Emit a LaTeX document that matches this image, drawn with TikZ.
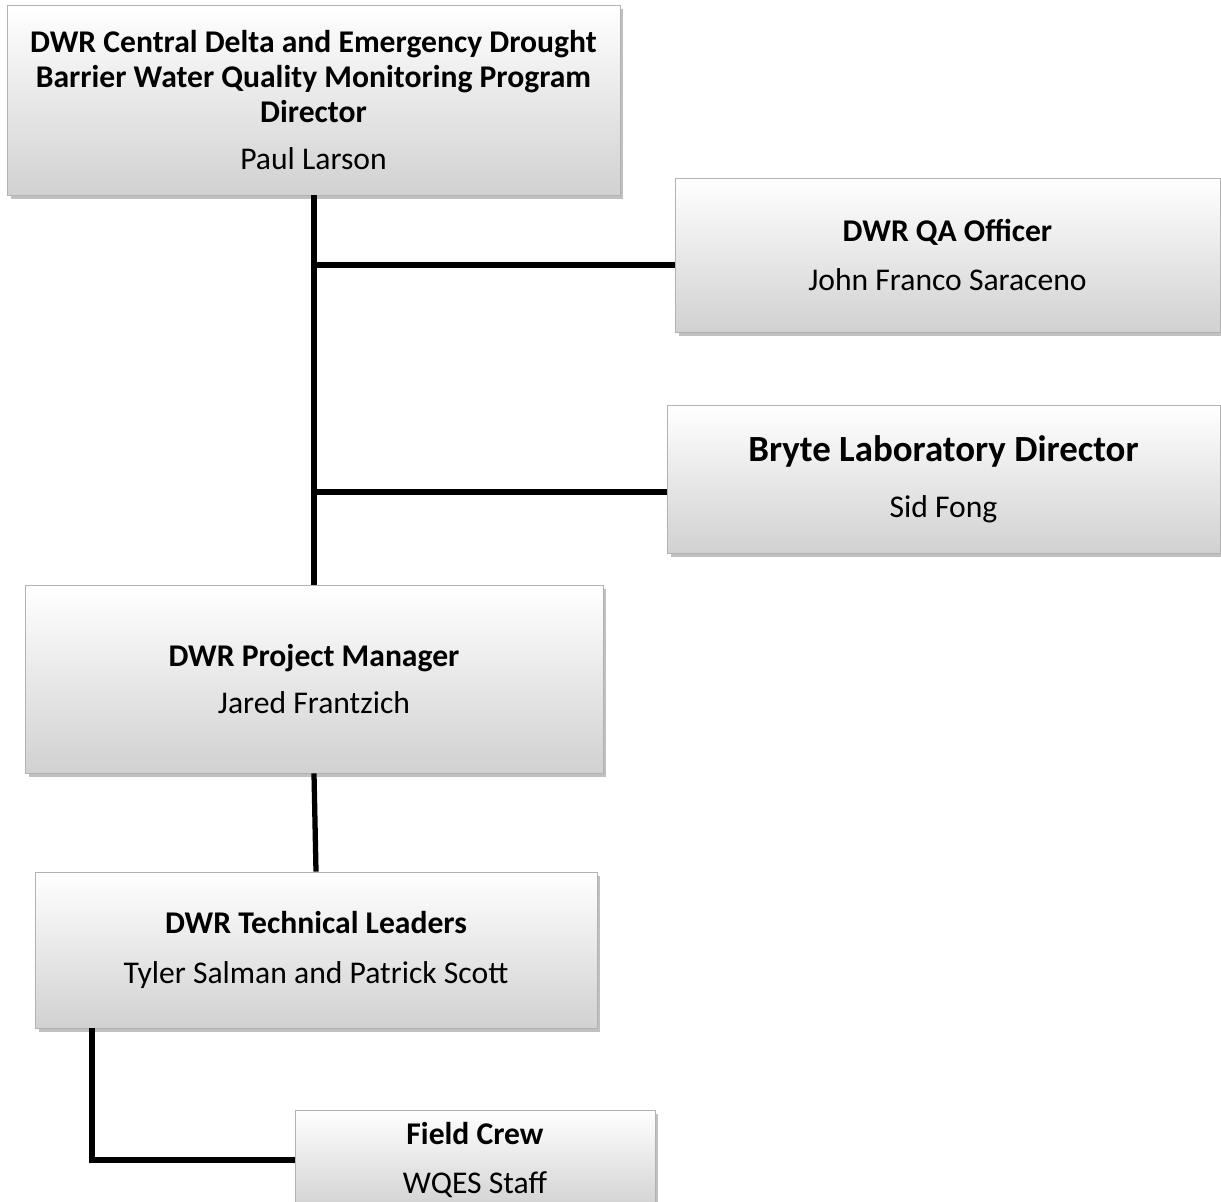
\documentclass[tikz,border=0pt]{standalone}
\usepackage{fontspec}
\setmainfont{Carlito}
\usetikzlibrary{shadows}
\begin{document}
\begin{tikzpicture}[x=0.02cm, y=-0.02cm,
    orgbox/.style={draw=black!30, line width=0.5pt, top color=white, bottom color=black!18,
      drop shadow={shadow xshift=2pt, shadow yshift=-2.5pt, opacity=0.45, fill=black!55},
      inner sep=0pt, align=center, font=\fontsize{18}{20}\selectfont},
    link/.style={line width=3pt}]
  \useasboundingbox (0,0) rectangle (1221,1202);
  % boxes
  \node[orgbox, minimum width=12.26cm, minimum height=3.8cm] (director) at (313.5,100)
    {\textbf{DWR Central Delta and Emergency Drought}\\ \textbf{Barrier Water Quality Monitoring Program}\\ \textbf{Director}\\[7pt] Paul Larson};
  \node[orgbox, minimum width=10.9cm, minimum height=3.08cm] (qa) at (947.5,255)
    {\textbf{DWR QA Officer}\\[8pt] John Franco Saraceno};
  \node[orgbox, minimum width=11.06cm, minimum height=2.96cm] (lab) at (943.5,479)
    {\fontsize{21}{24}\selectfont\textbf{Bryte Laboratory Director}\\[12pt] Sid Fong};
  \node[orgbox, minimum width=11.56cm, minimum height=3.76cm] (pm) at (314,679)
    {\textbf{DWR Project Manager}\\[7pt] Jared Frantzich};
  \node[orgbox, minimum width=11.24cm, minimum height=3.12cm] (tech) at (316,950)
    {\textbf{DWR Technical Leaders}\\[8pt] Tyler Salman and Patrick Scott};
  \node[orgbox, minimum width=7.2cm, minimum height=2cm] (crew) at (475,1160)
    {\textbf{Field Crew}\\[8pt] WQES Staff};
  % connectors
  \coordinate (qajoin) at (316,265);
  \coordinate (labjoin) at (316,492);
  \coordinate (techcorner) at (92,1028);
  \draw[link] (director.south -| pm.north) -- (pm.north);
  \draw[link] (qajoin) -- (qajoin -| qa.west);
  \draw[link] (labjoin) -- (labjoin -| lab.west);
  \draw[link] (pm.south) -- (tech.north);
  \draw[link] (techcorner) |- (crew.west);
\end{tikzpicture}
\end{document}
